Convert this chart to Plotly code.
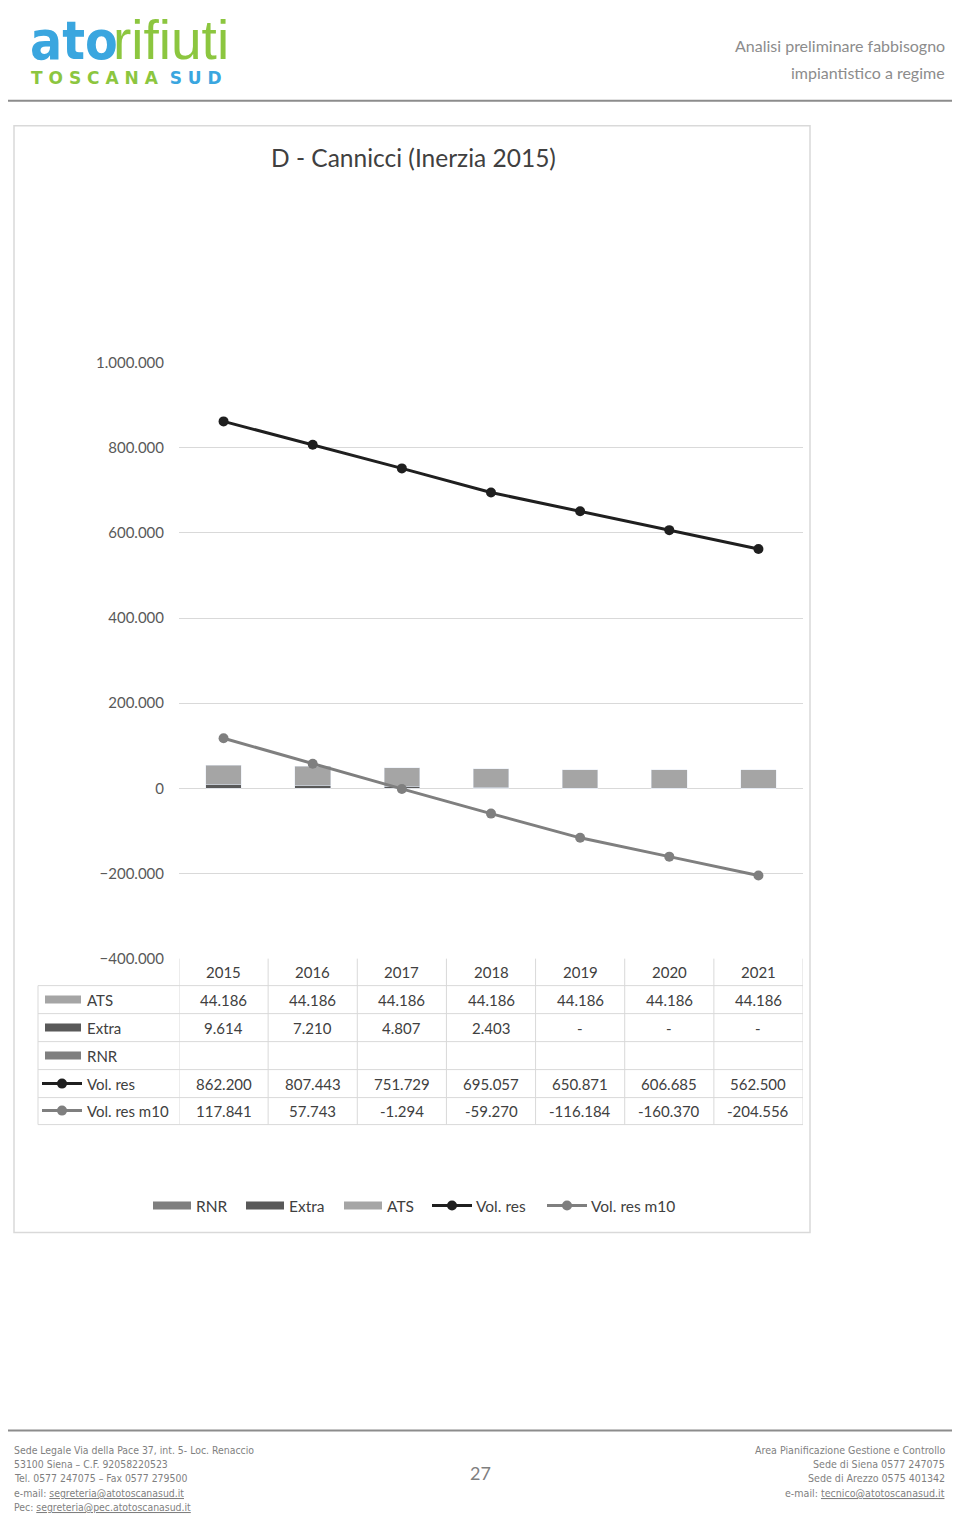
import plotly.graph_objects as go

W, H = 960, 1515

years = ["2015", "2016", "2017", "2018", "2019", "2020", "2021"]
ats = [44186, 44186, 44186, 44186, 44186, 44186, 44186]
extra = [9614, 7210, 4807, 2403, 0, 0, 0]
rnr = [None, None, None, None, None, None, None]
vol_res = [862200, 807443, 751729, 695057, 650871, 606685, 562500]
vol_res_m10 = [117841, 57743, -1294, -59270, -116184, -160370, -204556]

C_ATS = "#a5a5a5"
C_EXTRA = "#595959"
C_RNR = "#7f7f7f"
C_VOL = "#1f1f1f"
C_M10 = "#7f7f7f"
GRID = "#d9d9d9"
TXT = "#404040"
FONT = "Lato"
NARROW = "Liberation Sans Narrow, DejaVu Sans Condensed"


# page pixel -> paper fraction (the rendered page sits a little offset)
def py(p):
    return 1 - ((p - 17.2) / 0.9883) / H


def px(p):
    return (p - 8) / W


def fmt(v):
    if v is None:
        return ""
    if v == 0:
        return "-"
    return f"{v:,}".replace(",", ".")


fig = go.Figure()
idx = list(range(len(years)))
fig.add_trace(go.Bar(x=idx, y=rnr, name="RNR", marker_color=C_RNR))
fig.add_trace(go.Bar(x=idx, y=extra, name="Extra", marker_color=C_EXTRA))
fig.add_trace(go.Bar(x=idx, y=ats, name="ATS", marker_color=C_ATS))
fig.add_trace(go.Scatter(x=idx, y=vol_res, name="Vol. res", mode="lines+markers",
                         line=dict(color=C_VOL, width=3), marker=dict(size=10, color=C_VOL)))
fig.add_trace(go.Scatter(x=idx, y=vol_res_m10, name="Vol. res m10", mode="lines+markers",
                         line=dict(color=C_M10, width=3), marker=dict(size=10, color=C_M10)))

shapes = []
ann = []

# header / logo
ann.append(dict(x=px(28), y=py(72), text="<b>ato</b>", xanchor="left", yanchor="bottom",
                font=dict(family="DejaVu Sans Condensed", size=53, color="#3aa6df")))
ann.append(dict(x=px(111), y=py(72), text="rifiuti", xanchor="left", yanchor="bottom",
                font=dict(family="Liberation Sans", size=55, color="#8cc63f")))
ann.append(dict(x=px(29), y=py(77), xanchor="left", yanchor="middle",
                text="<b>T O S C A N A  <span style='color:#3aa6df'>S U D</span></b>",
                font=dict(family="DejaVu Sans", size=17, color="#8cc63f")))
ann.append(dict(x=px(947), y=py(45), text="Analisi preliminare fabbisogno", xanchor="right",
                yanchor="middle", font=dict(family=FONT, size=16, color="#8c8c8c")))
ann.append(dict(x=px(947), y=py(72), text="impiantistico a regime", xanchor="right",
                yanchor="middle", font=dict(family=FONT, size=16, color="#8c8c8c")))
shapes.append(dict(type="line", xref="paper", yref="paper", x0=px(0), x1=px(958), y0=py(100), y1=py(100),
                   line=dict(color="#8c8c8c", width=2)))

# chart frame
shapes.append(dict(type="rect", xref="paper", yref="paper", x0=px(14), x1=px(810), y0=py(125), y1=py(1232),
                   line=dict(color=GRID, width=1.5), layer="below"))
ann.append(dict(x=px(413), y=py(157), text="D - Cannicci (Inerzia 2015)", xanchor="center",
                yanchor="middle", font=dict(family=FONT, size=24.5, color=TXT)))

# data table
row_y = [999, 1027, 1055, 1083, 1110]
for i, y in enumerate(years):
    ann.append(dict(x=i, xref="x", y=py(971), text=y, xanchor="center", yanchor="middle",
                    font=dict(family=FONT, size=15, color=TXT)))
series_rows = [("ATS", ats, "bar", C_ATS), ("Extra", extra, "bar", C_EXTRA), ("RNR", rnr, "bar", C_RNR),
               ("Vol. res", vol_res, "line", C_VOL), ("Vol. res m10", vol_res_m10, "line", C_M10)]
for (label, vals, kind, col), ry in zip(series_rows, row_y):
    for i, v in enumerate(vals):
        ann.append(dict(x=i, xref="x", y=py(ry), text=fmt(v), xanchor="center", yanchor="middle",
                        font=dict(family=FONT, size=15, color=TXT)))
    ann.append(dict(x=px(85), y=py(ry), text=label, xanchor="left", yanchor="middle",
                    font=dict(family=FONT, size=15, color=TXT)))
    if kind == "bar":
        shapes.append(dict(type="rect", xref="paper", yref="paper", x0=px(45), x1=px(81),
                           y0=py(ry + 4), y1=py(ry - 4), fillcolor=col, line=dict(width=0)))
    else:
        shapes.append(dict(type="line", xref="paper", yref="paper", x0=px(42), x1=px(82),
                           y0=py(ry), y1=py(ry), line=dict(color=col, width=3)))
        shapes.append(dict(type="circle", xref="paper", yref="paper", x0=px(57), x1=px(67),
                           y0=py(ry + 5), y1=py(ry - 5), fillcolor=col, line=dict(width=0)))

for yl in [985, 1013, 1041, 1069, 1097, 1124]:
    shapes.append(dict(type="line", xref="paper", yref="paper", x0=px(38), x1=px(803),
                       y0=py(yl), y1=py(yl), line=dict(color=GRID, width=1)))
for i in range(len(years) + 1):
    shapes.append(dict(type="line", xref="x", yref="paper", x0=i - 0.5, x1=i - 0.5,
                       y0=py(958), y1=py(1124), line=dict(color=GRID, width=1)))
shapes.append(dict(type="line", xref="paper", yref="paper", x0=px(38), x1=px(38),
                   y0=py(985), y1=py(1124), line=dict(color=GRID, width=1)))

# bottom legend
leg = [("RNR", "bar", C_RNR, 153), ("Extra", "bar", C_EXTRA, 246), ("ATS", "bar", C_ATS, 344),
       ("Vol. res", "line", C_VOL, 432), ("Vol. res m10", "line", C_M10, 547)]
ly = 1205
for label, kind, col, x0 in leg:
    if kind == "bar":
        shapes.append(dict(type="rect", xref="paper", yref="paper", x0=px(x0), x1=px(x0 + 38),
                           y0=py(ly + 4), y1=py(ly - 4), fillcolor=col, line=dict(width=0)))
        tx = x0 + 41
    else:
        shapes.append(dict(type="line", xref="paper", yref="paper", x0=px(x0), x1=px(x0 + 40),
                           y0=py(ly), y1=py(ly), line=dict(color=col, width=3)))
        shapes.append(dict(type="circle", xref="paper", yref="paper", x0=px(x0 + 15), x1=px(x0 + 25),
                           y0=py(ly + 5), y1=py(ly - 5), fillcolor=col, line=dict(width=0)))
        tx = x0 + 42
    ann.append(dict(x=px(tx), y=py(ly), text=label, xanchor="left", yanchor="middle",
                    font=dict(family=FONT, size=15.5, color=TXT)))

# footer
shapes.append(dict(type="line", xref="paper", yref="paper", x0=px(0), x1=px(958), y0=py(1430), y1=py(1430),
                   line=dict(color="#8c8c8c", width=2)))
fl = ["Sede Legale Via della Pace 37, int. 5- Loc. Renaccio",
      "53100 Siena \u2013 C.F. 92058220523",
      "Tel. 0577 247075 \u2013 Fax 0577 279500",
      "e-mail: <u>segreteria@atotoscanasud.it</u>",
      "Pec: <u>segreteria@pec.atotoscanasud.it</u>"]
fr = ["Area Pianificazione Gestione e Controllo",
      "Sede di Siena 0577 247075",
      "Sede di Arezzo 0575 401342",
      "e-mail: <u>tecnico@atotoscanasud.it</u>"]
fys = [1449, 1463, 1477, 1492, 1506]
for t, y in zip(fl, fys):
    ann.append(dict(x=px(12), y=py(y), text=t, xanchor="left", yanchor="middle",
                    font=dict(family=NARROW, size=10.4, color="#7f7f7f")))
for t, y in zip(fr, fys):
    ann.append(dict(x=px(947), y=py(y), text=t, xanchor="right", yanchor="middle",
                    font=dict(family=NARROW, size=10.6, color="#7f7f7f")))
ann.append(dict(x=px(480), y=py(1472), text="27", xanchor="center", yanchor="middle",
                font=dict(family=FONT, size=18, color="#7f7f7f")))

for a in ann:
    a.setdefault("xref", "paper")
    a.setdefault("yref", "paper")
    a["showarrow"] = False

fig.update_layout(
    width=W, height=H,
    margin=dict(l=0, r=0, t=0, b=0),
    paper_bgcolor="white", plot_bgcolor="white",
    barmode="stack", bargap=0.6,
    showlegend=False,
    separators=",.",
    font=dict(family=FONT, color=TXT),
    xaxis=dict(domain=[px(179), px(803)], range=[-0.5, 6.5], showticklabels=False,
               showgrid=False, zeroline=False, fixedrange=True),
    yaxis=dict(domain=[py(958), py(362)], range=[-400000, 1000000], dtick=200000,
               tickformat=",d", showgrid=True, gridcolor=GRID, gridwidth=1,
               zeroline=True, zerolinecolor=GRID, zerolinewidth=1,
               tickfont=dict(family=FONT, size=15, color="#595959"),
               ticklabelstandoff=14, showline=False),
    shapes=shapes,
    annotations=ann,
)

fig.write_html("out.html")
